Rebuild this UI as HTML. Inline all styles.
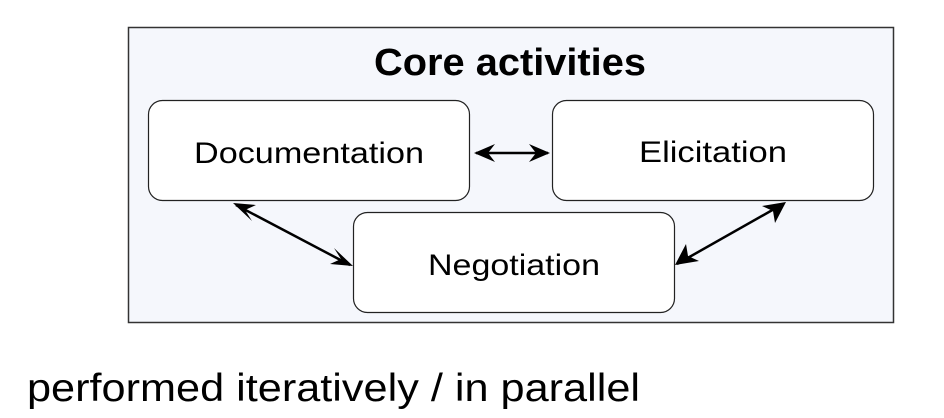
<!DOCTYPE html>
<html><head><style>html,body{margin:0;padding:0;background:#fff;width:944px;height:418px;overflow:hidden}</style></head>
<body>
<svg width="944" height="418" viewBox="0 0 944 418" xmlns="http://www.w3.org/2000/svg" font-family="Liberation Sans, sans-serif">
<rect x="128.5" y="27.5" width="765" height="295" fill="#f5f7fc" stroke="#333" stroke-width="1.5"/>
<text x="510" y="75" text-anchor="middle" font-size="38" font-weight="bold" textLength="272" lengthAdjust="spacingAndGlyphs">Core activities</text>
<rect x="148.5" y="100.5" width="321" height="100" rx="14" fill="#fff" stroke="#222" stroke-width="1.2"/>
<rect x="552.5" y="100.5" width="321" height="100" rx="14" fill="#fff" stroke="#222" stroke-width="1.2"/>
<rect x="353.5" y="212.5" width="321" height="100" rx="14" fill="#fff" stroke="#222" stroke-width="1.2"/>
<text x="309" y="163" text-anchor="middle" font-size="30" textLength="230" lengthAdjust="spacingAndGlyphs">Documentation</text>
<text x="713" y="162" text-anchor="middle" font-size="30" textLength="148" lengthAdjust="spacingAndGlyphs">Elicitation</text>
<text x="514" y="275" text-anchor="middle" font-size="30" textLength="172" lengthAdjust="spacingAndGlyphs">Negotiation</text>
<g stroke="#000" stroke-width="2.5" fill="none">
<line x1="476" y1="153" x2="548" y2="153"/>
<line x1="236" y1="205" x2="350" y2="265"/>
<line x1="677" y1="264" x2="783" y2="204"/>
</g>
<g fill="#000">
<polygon points="474,153 495,144 488,153 495,162"/>
<polygon points="550,153 529,144 536,153 529,162"/>
<polygon points="233,203 256,205 245,210 252,221"/>
<polygon points="353,266 330,264 341,259 334,248"/>
<polygon points="675,265 686,244 688,256 699,261"/>
<polygon points="786,202 775,223 773,211 762,206"/>
</g>
<text x="27" y="401" font-size="39" textLength="613" lengthAdjust="spacingAndGlyphs">performed iteratively / in parallel</text>
</svg>
</body></html>
